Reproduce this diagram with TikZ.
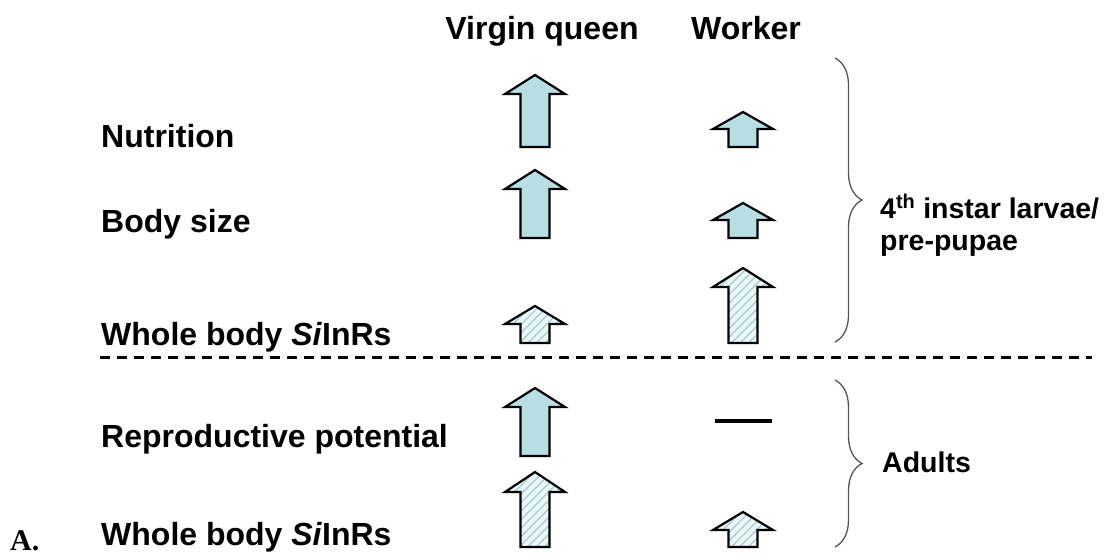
\documentclass[tikz,border=0pt]{standalone}
\usepackage{fontspec}
\setmainfont{Liberation Sans}
\newfontfamily\serifA{Liberation Serif}
\usetikzlibrary{patterns.meta,decorations.pathreplacing}
\definecolor{arrowfill}{HTML}{B8DEE3}
\definecolor{palefill}{HTML}{EEF7F8}
\definecolor{stripe}{HTML}{A6D0D6}
\definecolor{bracegray}{HTML}{555555}
\tikzset{
  lab/.style={anchor=base west, inner sep=0pt, font=\fontsize{32}{38}\selectfont\bfseries},
  head/.style={anchor=base, inner sep=0pt, font=\fontsize{32}{38}\selectfont\bfseries},
  side/.style={anchor=base west, inner sep=0pt, font=\fontsize{28.5}{34}\selectfont\bfseries},
  solidarrow/.style={draw=black, line width=2.2pt, fill=arrowfill, line join=miter},
  hatcharrow/.style={draw=black, line width=2.2pt, line join=miter,
     preaction={fill=palefill},
     pattern={Lines[angle=45, distance=6pt, line width=1.4pt]}, pattern color=stripe},
  bracestyle/.style={draw=bracegray, line width=1.3pt, decorate,
     decoration={brace, amplitude=27pt}},
  sep/.style={line width=3pt, dash pattern=on 10pt off 7pt},
  nochange/.style={line width=4pt}
}
% style, cx, tip, head base, bottom
\newcommand{\blockarrow}[5]{%
  \draw[#1] ({#2-14.5},#5) -- ({#2-14.5},#4) -- ({#2-30},#4) -- (#2,#3)
    -- ({#2+30},#4) -- ({#2+14.5},#4) -- ({#2+14.5},#5) -- cycle;}
\begin{document}
\begin{tikzpicture}[x=1pt,y=-1pt]
\useasboundingbox (0,0) rectangle (1108,557);
% headers
\node[head] (hq) at (542,39) {Virgin queen};
\node[head] (hw) at (746,39) {Worker};
% labels
\node[lab] (l1) at (101,147) {Nutrition};
\node[lab] (l2) at (101,232) {Body size};
\node[lab] (l3) at (101,345) {Whole body \textit{Si}InRs};
\node[lab] (l4) at (101,447) {Reproductive potential};
\node[lab] (l5) at (101,545) {Whole body \textit{Si}InRs};
\node[anchor=base west, inner sep=0pt, font=\serifA\fontsize{30}{36}\selectfont\bfseries] (la) at (10,550) {A.};
% virgin queen arrows
\blockarrow{solidarrow}{535}{75}{94}{147}
\blockarrow{solidarrow}{535}{170}{189}{238}
\blockarrow{hatcharrow}{535}{306}{324}{343}
\blockarrow{solidarrow}{535}{388}{407}{456}
\blockarrow{hatcharrow}{535}{472}{492}{547}
% worker arrows
\blockarrow{solidarrow}{743}{112}{129}{147}
\blockarrow{solidarrow}{743}{203}{220}{238}
\blockarrow{hatcharrow}{743}{268}{287}{343}
\coordinate (d1) at (715,421);
\coordinate (d2) at (772,421);
\draw[nochange] (d1) -- (d2);
\blockarrow{hatcharrow}{743}{512}{530}{547}
% separator
\coordinate (s1) at (100,357);
\coordinate (s2) at (1092,357);
\draw[sep] (s1) -- (s2);
% braces
\coordinate (b1t) at (835,58);
\coordinate (b1b) at (835,342);
\draw[bracestyle] (b1t) -- (b1b);
\coordinate (b2t) at (835,380);
\coordinate (b2b) at (835,547);
\draw[bracestyle] (b2t) -- (b2b);
\node[side] (r1) at (880,218) {4\textsuperscript{th} instar larvae/};
\node[side] (r2) at (880,250) {pre-pupae};
\node[side] (r3) at (882,472) {Adults};
\end{tikzpicture}
\end{document}
